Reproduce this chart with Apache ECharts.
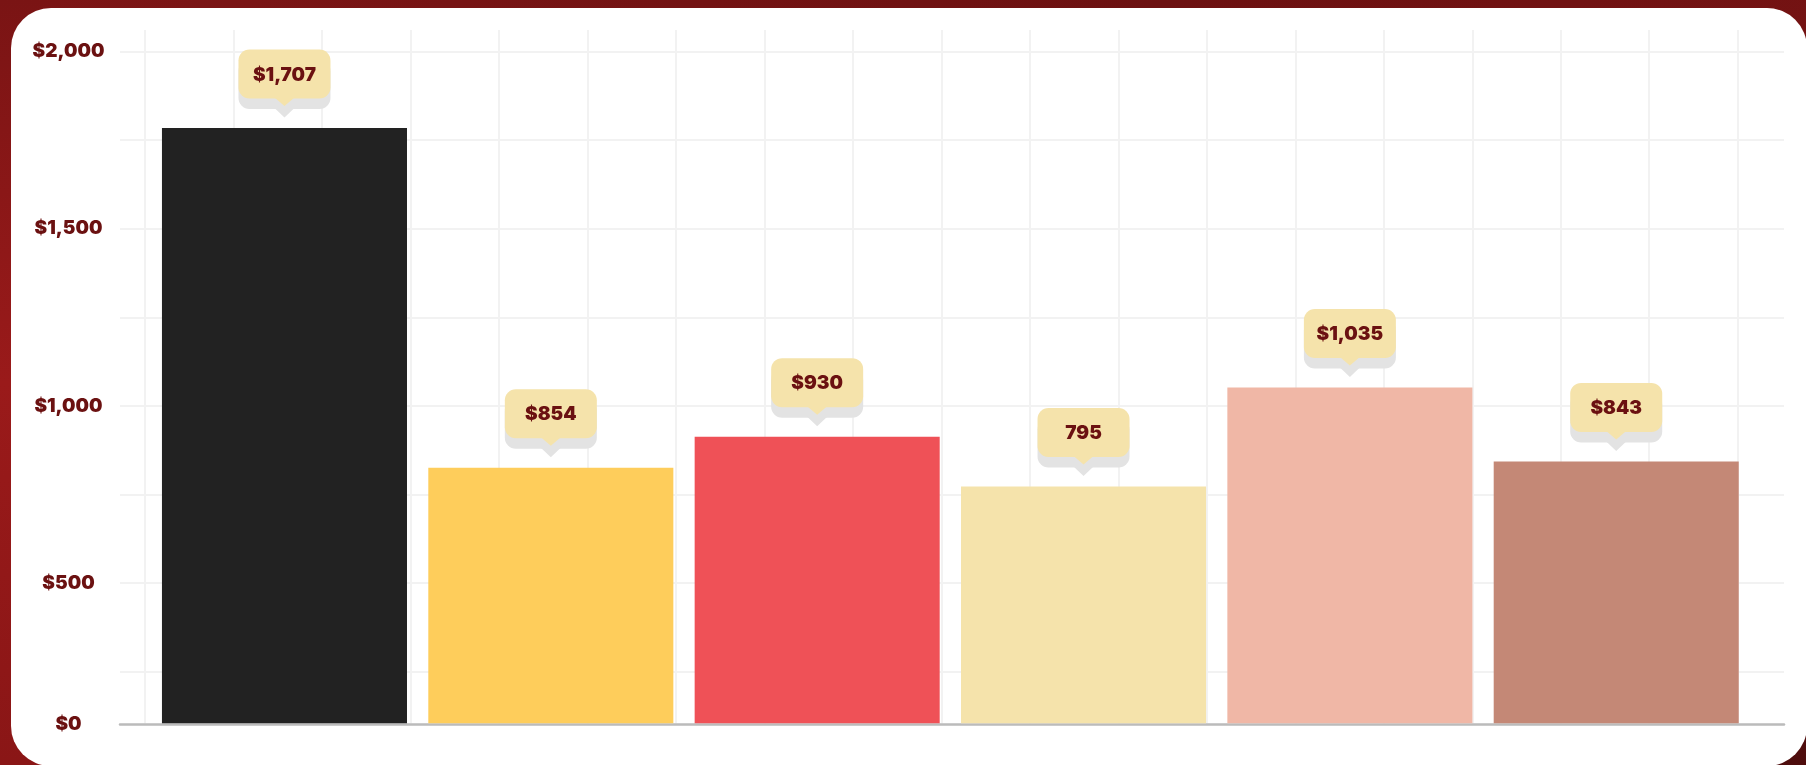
<!DOCTYPE html>
<html>
<head>
<meta charset="utf-8">
<script src="https://cdn.jsdelivr.net/npm/echarts@6/dist/echarts.min.js"></script>
<style>
  html, body { margin: 0; padding: 0; width: 1806px; height: 765px; overflow: hidden; }
  body { background: linear-gradient(160deg, #7e1616 0%, #6c1111 30%, #7a1414 60%, #4e0d0d 100%); position: relative; }
  #leftglow { position: absolute; left: 0; top: 0; width: 60px; height: 765px; background: linear-gradient(180deg, #7a1414 0%, #9a1a1a 50%, #8a1616 100%); }
  #card { position: absolute; left: 11px; top: 8px; width: 1796px; height: 758px; background: #ffffff; border-radius: 40px; }
  #chart { position: absolute; left: 0; top: 0; width: 1806px; height: 765px; }
</style>
</head>
<body>
<div id="leftglow"></div>
<div id="card"></div>
<div id="chart"></div>
<script>
// ---- data ----
const categories = ['Item 1', 'Item 2', 'Item 3', 'Item 4', 'Item 5', 'Item 6'];
const barValues = [1784, 823, 911, 770, 1050, 841];
const barLabels = ['$1,707', '$854', '$930', '795', '$1,035', '$843'];
const barColors = ['#222222', '#fecd5b', '#ef5157', '#f5e3ab', '#f0b7a6', '#c48876'];
const yTickValues = [100, 500, 1000, 1500, 2000];
const yTickLabels = ['$0', '$500', '$1,000', '$1,500', '$2,000'];
const yGridValues = [250, 500, 750, 1000, 1250, 1500, 1750, 2000];

const DARK = '#6b1111';
const GRID_LINE = '#f2f2f2';
const FONT = 'Inter, "Noto Sans", sans-serif';

const chart = echarts.init(document.getElementById('chart'), null, { renderer: 'canvas' });

const option = {
  backgroundColor: 'transparent',
  animation: false,
  grid: [
    { left: 120, right: 22, top: 51.7, bottom: 40.5 },     // y labels, horizontal lines, axis line
    { left: 151.3, right: 56.6, top: 51.7, bottom: 41.7 }, // bars
    { left: 145, right: 68.3, top: 30, bottom: 41.7 }      // vertical lines
  ],
  xAxis: [
    { gridIndex: 0, type: 'value', min: 0, max: 1,
      axisLine: { show: true, lineStyle: { color: '#bbbbbb', width: 2.5 } },
      axisTick: { show: false }, axisLabel: { show: false }, splitLine: { show: false } },
    { gridIndex: 1, type: 'category', data: categories,
      axisLine: { show: false }, axisTick: { show: false }, axisLabel: { show: false }, splitLine: { show: false } },
    { gridIndex: 2, type: 'value', min: 0, max: 18, interval: 1,
      axisLine: { show: false }, axisTick: { show: false }, axisLabel: { show: false },
      splitLine: { show: true, lineStyle: { color: GRID_LINE, width: 2 } } }
  ],
  yAxis: [
    { gridIndex: 0, type: 'value', min: 100, max: 2000,
      axisLine: { show: false },
      axisTick: { show: false, customValues: yGridValues },
      axisLabel: {
        customValues: yTickValues,
        formatter: function (v) { return yTickLabels[yTickValues.indexOf(v)]; },
        align: 'center', margin: 51.5,
        color: DARK, fontFamily: FONT, fontWeight: 900, fontSize: 19
      },
      splitLine: { show: true, lineStyle: { color: GRID_LINE, width: 2 } } },
    { gridIndex: 1, type: 'value', min: 100, max: 2000,
      axisLine: { show: false }, axisTick: { show: false }, axisLabel: { show: false }, splitLine: { show: false } },
    { gridIndex: 2, type: 'value', min: 0, max: 1,
      axisLine: { show: false }, axisTick: { show: false }, axisLabel: { show: false }, splitLine: { show: false } }
  ],
  series: [
    {
      type: 'bar', xAxisIndex: 1, yAxisIndex: 1,
      barCategoryGap: '8%',
      data: barValues.map((v, i) => ({ value: v, itemStyle: { color: barColors[i] } })),
      z: 3
    },
    {
      type: 'custom', xAxisIndex: 1, yAxisIndex: 1, z: 5,
      data: barValues.map((v, i) => [i, v]),
      renderItem: function (params, api) {
        const p = api.coord([api.value(0), api.value(1)]);
        const x = p[0], top = p[1];
        const w = 92, h = 49, r = 11, sh = 10.5;
        const by = top - 78.5;
        const shadow = '#e3e3e3', fill = '#f5e3ab';
        return {
          type: 'group',
          children: [
            { type: 'rect', shape: { x: x - w / 2, y: by + sh, width: w, height: h, r: r }, style: { fill: shadow } },
            { type: 'polygon', shape: { points: [[x - 10, by + h + sh - 1], [x + 10, by + h + sh - 1], [x, by + h + sh + 8.5]] }, style: { fill: shadow } },
            { type: 'rect', shape: { x: x - w / 2, y: by, width: w, height: h, r: r }, style: { fill: fill } },
            { type: 'polygon', shape: { points: [[x - 10, by + h - 1], [x + 10, by + h - 1], [x, by + h + 7.5]] }, style: { fill: fill } },
            { type: 'text', style: { text: barLabels[params.dataIndex], x: x, y: by + h / 2 + 1,
                align: 'center', verticalAlign: 'middle',
                fontFamily: FONT, fontWeight: 900, fontSize: 19, fill: DARK } }
          ]
        };
      }
    }
  ]
};
chart.setOption(option);
</script>
</body>
</html>
